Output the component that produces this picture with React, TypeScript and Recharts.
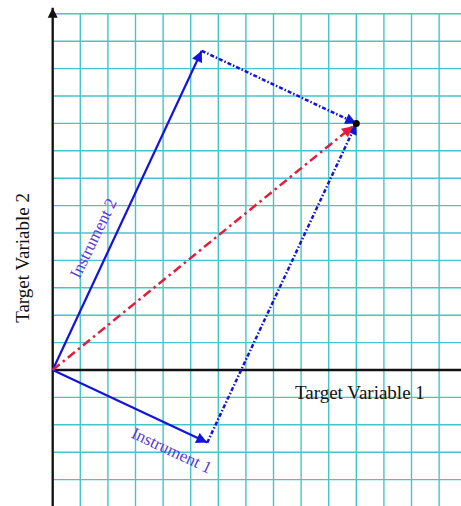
import React from 'react';
import { LineChart, XAxis, YAxis, ReferenceLine, ReferenceDot } from 'recharts';

// Grid (in grid units)
const gridXs = [0, 1, 2, 3, 4, 5, 6, 7, 8, 9, 10, 11, 12, 13, 14];
const gridYs = [-4, -3, -2, -1, 1, 2, 3, 4, 5, 6, 7, 8, 9, 10, 11, 12, 13];

// Vectors
const instrument1 = [{ x: 0, y: 0 }, { x: 5.6, y: -2.65 }];
const instrument2 = [{ x: 0, y: 0 }, { x: 5.4, y: 11.65 }];
const targetVec = [{ x: 0, y: 0 }, { x: 10.88, y: 8.9 }];
const fromInst2 = [{ x: 5.4, y: 11.65 }, { x: 11, y: 9 }];
const fromInst1 = [{ x: 5.6, y: -2.65 }, { x: 11, y: 9 }];
const sumPoint = { x: 11, y: 9 };

// Labels
const labels = [
  { text: 'Target Variable 1', x: 11.13, y: -0.8, angle: 0, color: '#111', size: 19 },
  { text: 'Target Variable 2', x: -1.12, y: 4.09, angle: -90, color: '#111', size: 19 },
  { text: 'Instrument 2', x: 1.46, y: 4.82, angle: -64, color: '#5b3ad8', size: 17 },
  { text: 'Instrument 1', x: 4.32, y: -2.92, angle: 25, color: '#5b3ad8', size: 17 },
];

const X_DOMAIN: [number, number] = [-1.909, 14.793];
const Y_DOMAIN: [number, number] = [-4.964, 13.504];
const GRID_TOP = 13;
const AXIS_TOP = 13.22;

const FONT = '"Liberation Serif", "Times New Roman", serif';
const GRID_COLOR = '#45c5cb';
const BLUE = '#1414d8';
const RED = '#e21d3c';

const vectors = [
  { pts: instrument1, color: BLUE, width: 2.2, dash: undefined, marker: 'url(#arrBlue)' },
  { pts: instrument2, color: BLUE, width: 2.2, dash: undefined, marker: 'url(#arrBlue)' },
  { pts: fromInst2, color: BLUE, width: 2.5, dash: '4 2 1.5 2', marker: 'url(#arrBlue)' },
  { pts: fromInst1, color: BLUE, width: 2.5, dash: '4 2 1.5 2', marker: 'url(#arrBlue)' },
  { pts: targetVec, color: RED, width: 2.5, dash: '9 4 2.5 4', marker: 'url(#arrRed)' },
];

export default function App() {
  return (
    <div style={{ position: 'absolute', left: 0, top: 0, width: 461, height: 506, background: '#fff' }}>
      <svg width={0} height={0} style={{ position: 'absolute' }}>
        <defs>
          <marker id="arrBlue" viewBox="0 0 10 10" refX={10} refY={5} markerWidth={13} markerHeight={11} markerUnits="userSpaceOnUse" orient="auto">
            <path d="M0,0 L10,5 L0,10 z" fill={BLUE} />
          </marker>
          <marker id="arrRed" viewBox="0 0 10 10" refX={10} refY={5} markerWidth={13} markerHeight={11} markerUnits="userSpaceOnUse" orient="auto">
            <path d="M0,0 L10,5 L0,10 z" fill={RED} />
          </marker>
          <marker id="arrBlack" viewBox="0 0 10 10" refX={10} refY={5} markerWidth={10} markerHeight={11} markerUnits="userSpaceOnUse" orient="auto">
            <path d="M0,0 L10,5 L0,10 z" fill="#111" />
          </marker>
        </defs>
      </svg>
      <LineChart width={461} height={506} margin={{ top: 0, right: 0, bottom: 0, left: 0 }}>
        <XAxis type="number" dataKey="x" domain={X_DOMAIN} allowDataOverflow hide />
        <YAxis type="number" dataKey="y" domain={Y_DOMAIN} allowDataOverflow hide />
        {gridXs.map((gx) => (
          <ReferenceLine
            key={'gx' + gx}
            segment={[{ x: gx, y: Y_DOMAIN[0] }, { x: gx, y: GRID_TOP }]}
            stroke={GRID_COLOR}
            strokeWidth={1.4}
            ifOverflow="visible"
          />
        ))}
        {gridYs.map((gy) => (
          <ReferenceLine
            key={'gy' + gy}
            segment={[{ x: 0, y: gy }, { x: X_DOMAIN[1], y: gy }]}
            stroke={GRID_COLOR}
            strokeWidth={1.4}
            ifOverflow="visible"
          />
        ))}
        <ReferenceLine
          segment={[{ x: 0, y: 0 }, { x: X_DOMAIN[1], y: 0 }]}
          stroke="#111"
          strokeWidth={2.3}
          ifOverflow="visible"
        />
        <ReferenceLine
          segment={[{ x: 0, y: Y_DOMAIN[0] }, { x: 0, y: AXIS_TOP }]}
          stroke="#111"
          strokeWidth={2.3}
          markerEnd="url(#arrBlack)"
          ifOverflow="visible"
        />
        {vectors.map((v, i) => (
          <ReferenceLine
            key={'v' + i}
            segment={[v.pts[0], v.pts[1]]}
            stroke={v.color}
            strokeWidth={v.width}
            strokeDasharray={v.dash}
            markerEnd={v.marker}
            ifOverflow="visible"
          />
        ))}
        <ReferenceDot x={sumPoint.x} y={sumPoint.y} r={3.5} fill="#000" stroke="none" />
        {labels.map((l) => (
          <ReferenceDot
            key={l.text}
            x={l.x}
            y={l.y}
            r={0}
            fill="none"
            stroke="none"
            label={{
              value: l.text,
              position: 'center',
              angle: l.angle,
              fill: l.color,
              fontSize: l.size,
              fontFamily: FONT,
            }}
          />
        ))}
      </LineChart>
    </div>
  );
}
